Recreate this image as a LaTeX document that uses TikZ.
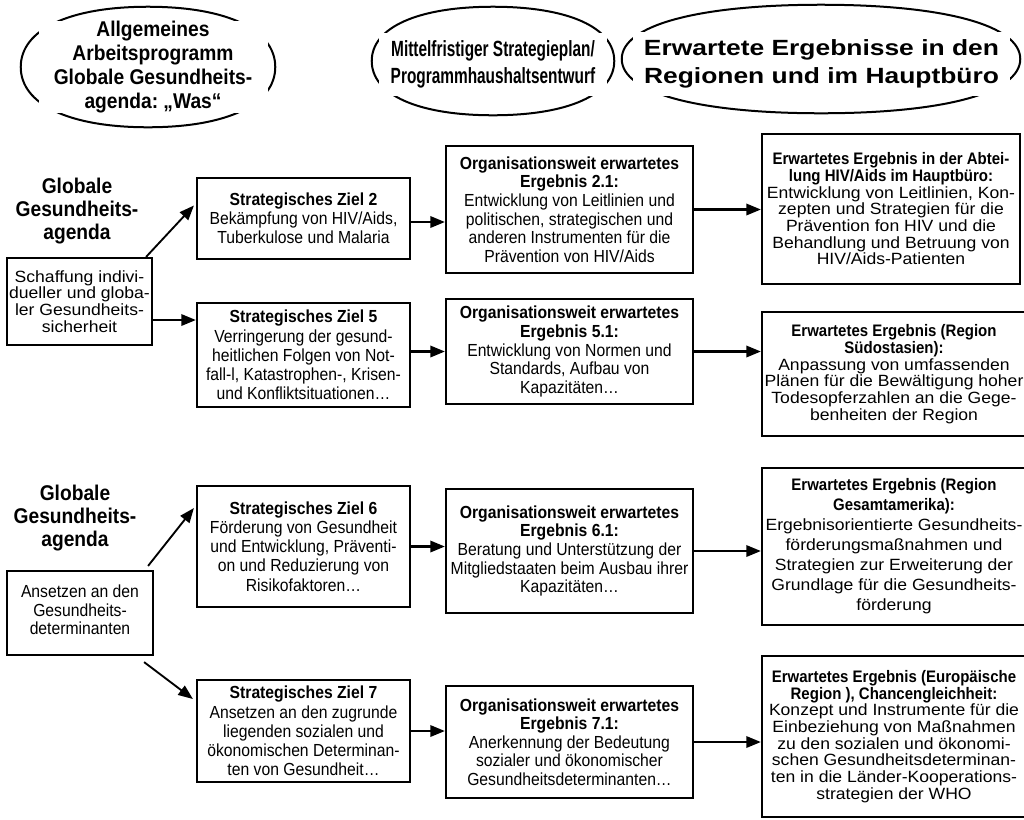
\documentclass[tikz,border=0pt]{standalone}
\usepackage{fontspec}
\setmainfont{Liberation Sans}
\newfontfamily\fcond[FakeStretch=0.7]{Liberation Sans}
\newfontfamily\fwide[FakeStretch=1.2]{Liberation Sans}
\newfontfamily\fnar[FakeStretch=0.9]{Liberation Sans}
\newfontfamily\fwid[FakeStretch=1.08]{Liberation Sans}
\frenchspacing
\usetikzlibrary{calc,arrows.meta}
\newcommand\rtitle[1]{{\fnar\fontsize{12.5pt}{12.5pt}\selectfont\bfseries #1}}
\newcommand\sqell[1]{%
  \draw[eline] (#1.north)
    .. controls ($(#1.north)!0.62!(#1.north east)$) and ($(#1.east)!0.62!(#1.north east)$) .. (#1.east)
    .. controls ($(#1.east)!0.62!(#1.south east)$) and ($(#1.south)!0.62!(#1.south east)$) .. (#1.south)
    .. controls ($(#1.south)!0.62!(#1.south west)$) and ($(#1.west)!0.62!(#1.south west)$) .. (#1.west)
    .. controls ($(#1.west)!0.62!(#1.north west)$) and ($(#1.north)!0.62!(#1.north west)$) .. (#1.north) -- cycle;}
\tikzset{
  box/.style 2 args={draw, line width=1.6pt, fill=white, inner sep=0pt, align=center,
    minimum width={#1*0.75pt}, minimum height={#2*0.75pt}},
  frame/.style 2 args={draw=none, inner sep=0pt, minimum width={#1*0.75pt}, minimum height={#2*0.75pt}},
  cover/.style 2 args={fill=white, inner sep=0pt, align=center,
    minimum width={#1*0.75pt}, minimum height={#2*0.75pt}},
  eline/.style={line width=1.5pt},
  arr/.style={line width=1.8pt, -{Triangle[length=11pt,width=8.5pt]}},
  diag/.style={line width=1.4pt, -{Triangle[length=11pt,width=8.5pt]}},
  af/.style={font=\fwid\fontsize{12.2pt}{12.5pt}\selectfont},
  zf/.style={font=\fnar\fontsize{13.1pt}{14.4pt}\selectfont},
  of/.style={font=\fnar\fontsize{13.1pt}{13.9pt}\selectfont},
  rf/.style={font=\fwid\fontsize{12.2pt}{12.5pt}\selectfont},
  rfg/.style={font=\fwid\fontsize{12.2pt}{15pt}\selectfont},
  bf/.style={font=\fnar\fontsize{13.1pt}{13.7pt}\selectfont},
  gf/.style={font=\fnar\bfseries\fontsize{16pt}{17.5pt}\selectfont, align=center, inner sep=0pt},
  hfa/.style={font=\fnar\bfseries\fontsize{16pt}{18pt}\selectfont},
  hfb/.style={font=\fcond\bfseries\fontsize{16.5pt}{20.5pt}\selectfont},
  hfc/.style={font=\fwide\bfseries\fontsize{16.5pt}{20.5pt}\selectfont},
}
\begin{document}
\begin{tikzpicture}[x=0.75pt,y=-0.75pt]
\useasboundingbox (0,0) rectangle (1024,819);
\fill[white] (0,0) rectangle (1024,819);
\clip (0,0) rectangle (1024,819);

% header ellipses
\node[frame={254}{120}] (e1) at (148,67) {};
\node[frame={242}{108}] (e2) at (493,61) {};
\node[frame={398}{108}] (e3) at (821,59) {};
\sqell{e1}
\sqell{e2}
\sqell{e3}
\node[cover={229}{90}, hfa] (h1) at (153,67) {Allgemeines\\Arbeitsprogramm\\Globale Gesundheits-\\agenda: „Was“};
\node[cover={228}{63}, hfb] (h2) at (493,64.5) {Mittelfristiger Strategieplan/\\Programmhaushaltsentwurf};
\node[cover={377}{64}, hfc] (h3) at (821.5,64) {Erwartete Ergebnisse in den\\Regionen und im Hauptbüro};

% upper block
\node[gf] (G1) at (77,211) {Globale\\Gesundheits-\\agenda};
\node[box={145}{87}, af] (A) at (79.5,301.5) {Schaffung indivi-\\dueller und globa-\\ler Gesundheits-\\sicherheit};
\node[box={213}{81}, zf] (Z2) at (303.5,218.5) {\textbf{Strategisches Ziel 2}\\Bekämpfung von HIV/Aids,\\Tuberkulose und Malaria};
\node[box={247}{127}, of] (O21) at (569.5,209.5) {\textbf{Organisationsweit erwartetes}\\\textbf{Ergebnis 2.1:}\\Entwicklung von Leitlinien und\\politischen, strategischen und\\anderen Instrumenten für die\\Prävention von HIV/Aids};
\node[box={258}{150}, rf] (R1) at (891,209) {\rtitle{Erwartetes Ergebnis in der Abtei-}\\\rtitle{lung HIV/Aids im Hauptbüro:}\\Entwicklung von Leitlinien, Kon-\\zepten und Strategien für die\\Prävention fon HIV und die\\Behandlung und Betruung von\\HIV/Aids-Patienten};
\node[box={213}{104}, zf] (Z5) at (303.5,355) {\textbf{Strategisches Ziel 5}\\Verringerung der gesund-\\heitlichen Folgen von Not-\\fall-l, Katastrophen-, Krisen-\\und Konfliktsituationen…};
\node[box={247}{105}, of] (O51) at (569.5,351.5) {\textbf{Organisationsweit erwartetes}\\\textbf{Ergebnis 5.1:}\\Entwicklung von Normen und\\Standards, Aufbau von\\Kapazitäten…};
\node[box={264}{124}, rf] (R2) at (894,374) {\rtitle{Erwartetes Ergebnis (Region}\\\rtitle{Südostasien):}\\Anpassung von umfassenden\\Plänen für die Bewältigung hoher\\Todesopferzahlen an die Gege-\\benheiten der Region};

% lower block
\node[gf] (G2) at (75,518) {Globale\\Gesundheits-\\agenda};
\node[box={146}{84}, bf] (B) at (80,613) {Ansetzen an den\\Gesundheits-\\determinanten\\[-9pt]\mbox{}};
\node[box={213}{121}, zf] (Z6) at (303.5,546.5) {\textbf{Strategisches Ziel 6}\\Förderung von Gesundheit\\und Entwicklung, Präventi-\\on und Reduzierung von\\Risikofaktoren…};
\node[box={247}{124}, of] (O61) at (569.5,551) {\textbf{Organisationsweit erwartetes}\\\textbf{Ergebnis 6.1:}\\Beratung und Unterstützung der\\Mitgliedstaaten beim Ausbau ihrer\\Kapazitäten…};
\node[box={264}{157}, rfg] (R3) at (894,546.5) {\rtitle{Erwartetes Ergebnis (Region}\\\rtitle{Gesamtamerika):}\\Ergebnisorientierte Gesundheits-\\förderungsmaßnahmen und\\Strategien zur Erweiterung der\\Grundlage für die Gesundheits-\\förderung};
\node[box={213}{102}, zf] (Z7) at (303.5,731) {\textbf{Strategisches Ziel 7}\\Ansetzen an den zugrunde\\liegenden sozialen und\\ökonomischen Determinan-\\ten von Gesundheit…};
\node[box={247}{112}, of] (O71) at (569.5,742) {\textbf{Organisationsweit erwartetes}\\\textbf{Ergebnis 7.1:}\\Anerkennung der Bedeutung\\sozialer und ökonomischer\\Gesundheitsdeterminanten…};
\node[box={264}{161}, rf] (R4) at (894,736.5) {\rtitle{Erwartetes Ergebnis (Europäische}\\\rtitle{Region ), Chancengleichheit:}\\Konzept und Instrumente für die\\Einbeziehung von Maßnahmen\\zu den sozialen und ökonomi-\\schen Gesundheitsdeterminan-\\ten in die Länder-Kooperations-\\strategien der WHO};

% connectors
\draw[diag] ($(A.north east)+(-7,0)$) -- ($(Z2.west)+(-2,-13)$);
\draw[arr] ($(A.east)+(0,18.5)$) -- ($(Z5.west)+(0,-35)$);
\draw[arr] ($(Z2.east |- O21.west)+(0,12.5)$) -- ($(O21.west)+(0,12.5)$);
\draw[arr] (O21.east) -- (O21.east -| R1.west);
\draw[arr] (Z5.east |- O51.west) -- (O51.west);
\draw[arr] (O51.east) -- (O51.east -| R2.west);
\draw[diag] ($(B.north east)+(-6,-4)$) -- ($(Z6.west)+(-2,-38.5)$);
\draw[diag] ($(B.south east)+(-10,6)$) -- ($(Z7.west)+(-3,-32)$);
\draw[arr] (Z6.east) -- (Z6.east -| O61.west);
\draw[arr] (O61.east) -- (O61.east -| R3.west);
\draw[arr] (Z7.east) -- (Z7.east -| O71.west);
\draw[arr] (O71.east) -- (O71.east -| R4.west);
\end{tikzpicture}
\end{document}
